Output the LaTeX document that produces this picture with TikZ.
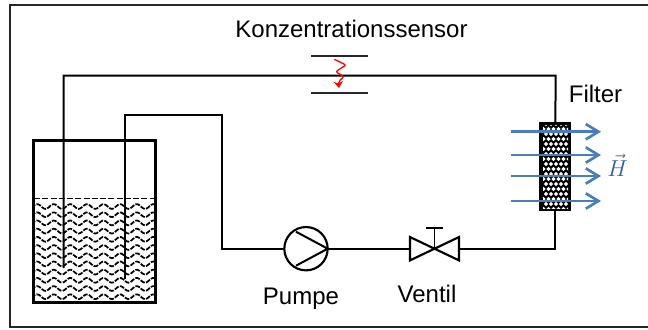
\documentclass[tikz,border=0pt]{standalone}
\usepackage{fontspec}
\setmainfont{Liberation Sans}
\usetikzlibrary{arrows.meta}
\definecolor{hblue}{HTML}{4A7EBB}
\definecolor{hlabel}{HTML}{2F5F9E}
\tikzset{
  pipe/.style={line width=1.5pt,black,line join=miter},
  frameline/.style={line width=1.4pt,black!85},
  label/.style={font=\fontsize{18}{20}\selectfont,anchor=base,inner sep=0pt},
  water/.style={line width=1.3pt,black,dash pattern=on 3.6pt off 1pt},
  field/.style={line width=2pt,hblue,-{Straight Barb[length=9.5pt,width=11.5pt,line width=2pt]}},
  sensorplate/.style={line width=1.4pt,black!85},
  anchornode/.style={inner sep=0pt,outer sep=0pt}
}
\begin{document}
\begin{tikzpicture}[x=0.75pt,y=-0.75pt]
\useasboundingbox (0,0) rectangle (648,329);
% outer frame (open to the image edge on the right)
\draw[frameline] (648,5) -- (10,5) -- (10,327) -- (648,327);

% water
\begin{scope}
\clip (34,196) rectangle (155,301);
\draw[black,line width=1pt,dash pattern=on 4.5pt off 1.7pt] (34,198.3) -- (155,198.3);
\foreach \r in {0,...,12}{
  \draw[water] plot[domain=26:160,samples=90,smooth]
    (\x,{206.5+8.2*\r-2.4*sin((\x-33)*21.687)});
}
\end{scope}

% nodes
\node[draw=black,line width=1.9pt,anchornode,minimum width=91.5pt,minimum height=121.5pt] (tank) at (94.3,221.3) {};
\coordinate (dipA) at (63.7,268);
\coordinate (dipB) at (124.5,279);
\coordinate (cornerA) at (555.7,75.7);
\coordinate (cornerB) at (222,115);
\node[draw=black,line width=1.6pt,circle,anchornode,minimum size=32.5pt] (pump) at (306,248.7) {};
\node[anchornode,minimum width=36.75pt,minimum height=17.5pt] (valve) at (434.5,248.7) {};
\coordinate (valvemid) at (434.5,248.7);
\coordinate (stem) at (434.5,228.3);
\coordinate (barL) at (426,228.3);
\coordinate (barR) at (442.5,228.3);
\coordinate (pumpUp) at (296,231.7);
\coordinate (pumpLo) at (296,265.7);
\coordinate (pumpTip) at (327.7,248.7);

% filter
\node[fill=black,anchornode,minimum width=22pt,minimum height=65.25pt] (filter) at (555.3,166.5) {};
\begin{scope}
\clip (543,125.5) rectangle (568,208);
\foreach \i in {0,...,17}{
  \foreach \j in {0,...,6}{
    \pgfmathsetmacro{\px}{541+5*\j+(mod(\i,2)==0?0:2.5)}
    \fill[white] (\px,124+\i*5-2.1) -- ++(2.1,2.1) -- ++(-2.1,2.1) -- ++(-2.1,-2.1) -- cycle;
  }
}
\end{scope}
\draw[black,line width=1.9pt] (filter.north west) rectangle (filter.south east);

% pipes
\draw[pipe] (dipA) |- (cornerA) -- (filter.north);
\draw[pipe] (dipB) |- (cornerB) |- (pump.west);
\draw[pipe] (pump.east) -- (valve.west);
\draw[pipe] (valve.east) -| (filter.south);

% pump
\draw[line width=1.5pt] (pumpUp) -- (pumpTip) -- (pumpLo);

% valve
\draw[line width=1.6pt,line join=miter] (valvemid) -- (valve.north west) -- (valve.south west) -- (valve.north east) -- (valve.south east) -- cycle;
\draw[line width=1.4pt] (valvemid) -- (stem);
\draw[line width=1.4pt] (barL) -- (barR);

% sensor
\coordinate (plateAl) at (311,56);
\coordinate (plateAr) at (368,56);
\coordinate (plateBl) at (311,92.7);
\coordinate (plateBr) at (368,92.7);
\draw[sensorplate] (plateAl) -- (plateAr);
\draw[sensorplate] (plateBl) -- (plateBr);
\draw[red,line width=1pt,-{Stealth[length=5pt,width=7pt]},rounded corners=1.5pt]
  (334.3,59.3) -- (346,65) -- (335.7,71.7) -- (344,76.7) -- (338.3,81.7) -- (339,88);

% field arrows
\coordinate (fa1) at (511,131.7); \coordinate (fb1) at (601,131.7);
\coordinate (fa2) at (511,155);   \coordinate (fb2) at (601,155);
\coordinate (fa3) at (511,176);   \coordinate (fb3) at (601,176);
\coordinate (fa4) at (511,201);   \coordinate (fb4) at (601,201);
\foreach \n in {1,2,3,4}{ \draw[field] (fa\n) -- (fb\n); }

% labels
\node[label] (lsensor) at (351.5,37) {Konzentrationssensor};
\node[label] (lfilter) at (595.5,102) {Filter};
\node[label] (lpump) at (301,304) {Pumpe};
\node[label] (lvalve) at (427,302) {Ventil};
\node[anchornode,text=hlabel,font=\fontsize{17}{18}\selectfont] (lh) at (617.5,165) {$\vec{H}$};
\end{tikzpicture}
\end{document}
